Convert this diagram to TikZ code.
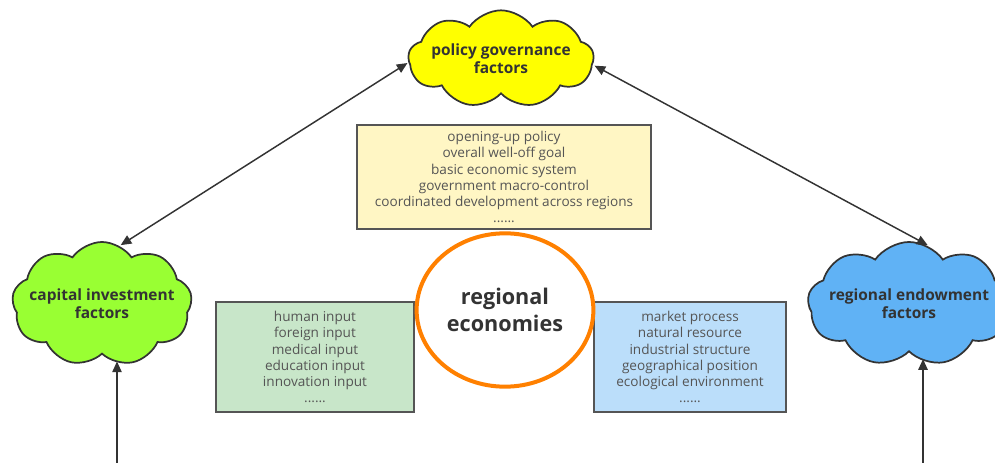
\documentclass[tikz,border=0pt]{standalone}
\usepackage{fontspec}
\setmainfont{Open Sans}
\usetikzlibrary{shapes.symbols,shapes.geometric,arrows.meta}
\definecolor{inkline}{HTML}{333333}
\definecolor{listtext}{HTML}{555555}
\definecolor{boxline}{HTML}{555555}
\definecolor{cloudyellow}{HTML}{FFFF00}
\definecolor{cloudgreen}{HTML}{99FF33}
\definecolor{cloudblue}{HTML}{60B2F5}
\definecolor{boxyellow}{HTML}{FFF6C4}
\definecolor{boxgreen}{HTML}{C8E6C9}
\definecolor{boxblue}{HTML}{BBDEFA}
\definecolor{ringorange}{HTML}{FF8000}
\tikzset{
  factorcloud/.style={cloud, cloud puffs=9, cloud puff arc=110, cloud ignores aspect,
    draw=inkline, line width=1.3pt, inner sep=0pt},
  cloudtext/.style={text=inkline, align=center, inner sep=0pt,
    font=\fontsize{11.6}{13.5}\selectfont\bfseries},
  listbox/.style={rectangle, draw=boxline, line width=1.4pt, text=listtext, align=center,
    font=\fontsize{10.2}{12.1}\selectfont, inner sep=0pt},
  link/.style={draw=inkline, line width=1.1pt}
}
\begin{document}
\begin{tikzpicture}[x=0.75pt,y=-0.75pt]
\useasboundingbox (0,0) rectangle (995,463);

% factor clouds (the caption sits on the cloud as a centred label)
\node[factorcloud, fill=cloudyellow, minimum width=139pt, minimum height=73pt,
  label={[cloudtext]center:policy governance\\factors}] (policy) at (501,59) {};
\node[factorcloud, fill=cloudgreen, minimum width=135pt, minimum height=93pt,
  label={[cloudtext]center:capital investment\\factors}] (capital) at (102,304) {};
\node[factorcloud, fill=cloudblue, minimum width=152pt, minimum height=93pt,
  label={[cloudtext]center:regional endowment\\factors}] (endow) at (909,304) {};

% factor lists
\node[listbox, fill=boxyellow, minimum width=220.5pt, minimum height=78pt] (policylist) at (504,177)
  {opening-up policy\\overall well-off goal\\basic economic system\\government macro-control\\coordinated development across regions\\......};
\node[listbox, fill=boxgreen, minimum width=148.5pt, minimum height=82.5pt] (capitallist) at (315,357)
  {human input\\foreign input\\medical input\\education input\\innovation input\\......};
\node[listbox, fill=boxblue, minimum width=144pt, minimum height=82.5pt] (endowlist) at (690,357)
  {market process\\natural resource\\industrial structure\\geographical position\\ecological environment\\......};

% centre
\node[ellipse, draw=ringorange, line width=3pt, fill=white, minimum width=129pt, minimum height=115pt,
  text=inkline, align=center, font=\fontsize{16.2}{20}\selectfont\bfseries] (core) at (505,310)
  {regional\\economies};

% connectors
\draw[link, {Triangle[length=8pt,width=7pt]}-{Triangle[length=8pt,width=7pt]}]
  ([yshift=-3pt]policy.west) -- ([xshift=14pt,yshift=-3pt]capital.north);
\draw[link, {Triangle[length=8pt,width=7pt]}-{Triangle[length=8pt,width=7pt]}]
  ([yshift=-5pt]policy.east) -- ([xshift=14pt,yshift=-3pt]endow.north);

\coordinate (capitalin) at (117,463);
\coordinate (endowin) at (923,463);
\draw[link, -{Triangle[length=8pt,width=7pt]}] (capitalin) -- ([yshift=-5pt]capitalin |- capital.south);
\draw[link, -{Triangle[length=8pt,width=7pt]}] (endowin) -- ([yshift=-5pt]endowin |- endow.south);
\end{tikzpicture}
\end{document}
